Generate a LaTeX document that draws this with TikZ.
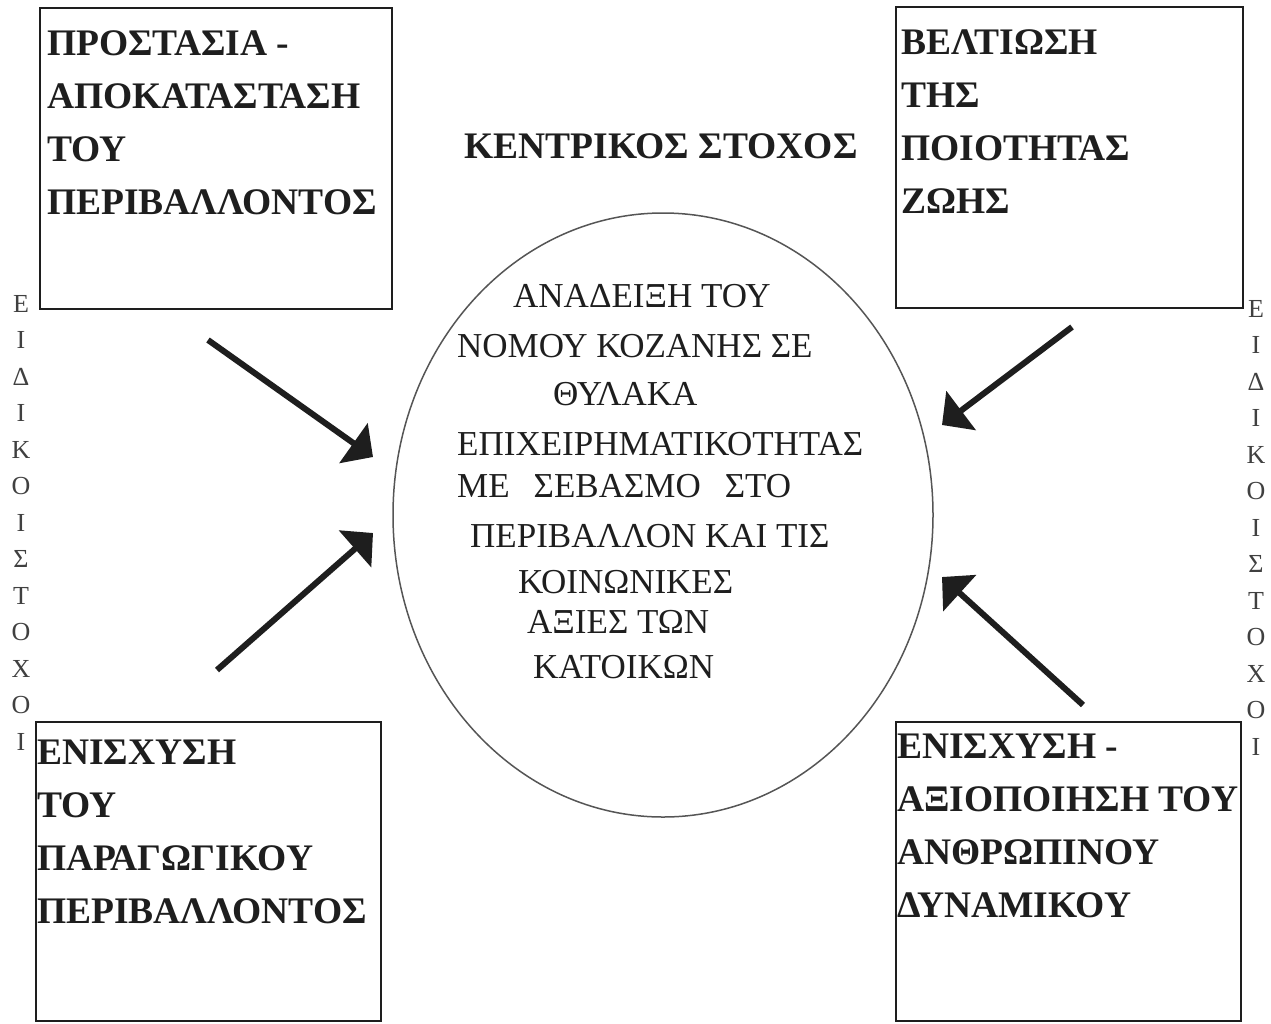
\documentclass[tikz,border=0pt]{standalone}
\usepackage{fontspec}
\setmainfont{Liberation Serif}
\usetikzlibrary{arrows.meta,shapes.geometric}
\definecolor{ink}{HTML}{1E1E1E}
\definecolor{ringc}{HTML}{555555}
\tikzset{
  boxtext/.style={anchor=north west, align=left, inner sep=0pt, text=ink,
     font={\fontsize{37.5}{53}\selectfont\bfseries}},
  eline/.style={anchor=base west, inner sep=0pt, text=ink, font={\fontsize{35}{40}\selectfont}},
  vletter/.style={anchor=base, inner sep=0pt, text=ink!85, font={\fontsize{26}{30}\selectfont}},
  bigarrow/.style={draw=ink, line width=6pt, -{Triangle[length=24pt,width=48pt]}},
}
\begin{document}
\begin{tikzpicture}[x=1pt,y=-1pt]
\path[fill=white] (0,0) rectangle (1271,1023);
\useasboundingbox (0,0) rectangle (1271,1023);

% boxes
\node[draw=ink, line width=2pt, minimum width=352pt, minimum height=301pt, inner sep=0pt] (tl) at (216,158.5) {};
\node[draw=ink, line width=2pt, minimum width=347pt, minimum height=301pt, inner sep=0pt] (tr) at (1069.5,157.5) {};
\node[draw=ink, line width=2pt, minimum width=345pt, minimum height=299pt, inner sep=0pt] (bl) at (208.5,871.5) {};
\node[draw=ink, line width=2pt, minimum width=345pt, minimum height=299pt, inner sep=0pt] (br) at (1068.5,871.5) {};

\node[boxtext] (tltext) at (47,30) {ΠΡΟΣΤΑΣΙΑ -\\ΑΠΟΚΑΤΑΣΤΑΣΗ\\ΤΟΥ\\ΠΕΡΙΒΑΛΛΟΝΤΟΣ};
\node[boxtext] (trtext) at (901,29) {ΒΕΛΤΙΩΣΗ\\ΤΗΣ\\ΠΟΙΟΤΗΤΑΣ\\ΖΩΗΣ};
\node[boxtext] (bltext) at (37,740) {ΕΝΙΣΧΥΣΗ\\ΤΟΥ\\ΠΑΡΑΓΩΓΙΚΟΥ\\ΠΕΡΙΒΑΛΛΟΝΤΟΣ};
\node[boxtext] (brtext) at (897,734) {ΕΝΙΣΧΥΣΗ -\\ΑΞΙΟΠΟΙΗΣΗ ΤΟΥ\\ΑΝΘΡΩΠΙΝΟΥ\\ΔΥΝΑΜΙΚΟΥ};

% title
\node[anchor=base, inner sep=0pt, text=ink, font={\fontsize{37.5}{40}\selectfont\bfseries}] (title) at (661,158) {ΚΕΝΤΡΙΚΟΣ ΣΤΟΧΟΣ};

% central ellipse
\node[ellipse, draw=ringc, line width=1.5pt, minimum width=540pt, minimum height=604pt, inner sep=0pt] (goal) at (663,515) {};
\node[eline] (e1) at (513,307) {ΑΝΑΔΕΙΞΗ ΤΟΥ};
\node[eline] (e2) at (457,357) {ΝΟΜΟΥ ΚΟΖΑΝΗΣ ΣΕ};
\node[eline] (e3) at (553,405) {ΘΥΛΑΚΑ};
\node[eline] (e4) at (457,455) {ΕΠΙΧΕΙΡΗΜΑΤΙΚΟΤΗΤΑΣ};
\node[eline] (e5) at (457,497) {ΜΕ\hspace{24pt}ΣΕΒΑΣΜΟ\hspace{24pt}ΣΤΟ};
\node[eline] (e6) at (470,547) {ΠΕΡΙΒΑΛΛΟΝ ΚΑΙ ΤΙΣ};
\node[eline] (e7) at (518,593) {ΚΟΙΝΩΝΙΚΕΣ};
\node[eline] (e8) at (527,633) {ΑΞΙΕΣ ΤΩΝ};
\node[eline] (e9) at (533,678) {ΚΑΤΟΙΚΩΝ};

% side labels
\foreach \c [count=\i from 0] in {Ε,Ι,Δ,Ι,Κ,Ο,Ι,Σ,Τ,Ο,Χ,Ο,Ι}{
  \node[vletter] (l\i) at (21,{312+36.5*\i}) {\c};
  \node[vletter] (r\i) at (1256,{317+36.5*\i}) {\c};
}

% arrows
\coordinate (a1s) at (208,340); \coordinate (a1e) at (373,457);
\coordinate (a2s) at (217,670); \coordinate (a2e) at (373,533);
\coordinate (a3s) at (1072,327); \coordinate (a3e) at (942,425);
\coordinate (a4s) at (1083,705); \coordinate (a4e) at (942,577);
\draw[bigarrow] (a1s) -- (a1e);
\draw[bigarrow] (a2s) -- (a2e);
\draw[bigarrow] (a3s) -- (a3e);
\draw[bigarrow] (a4s) -- (a4e);
\end{tikzpicture}
\end{document}
